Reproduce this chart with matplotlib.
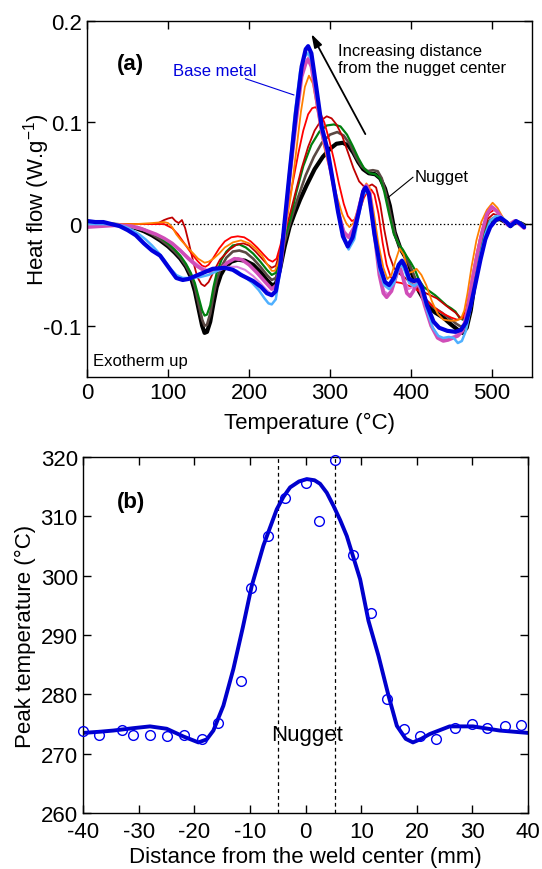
import matplotlib
matplotlib.use("Agg")
import matplotlib.pyplot as plt

plt.rcParams['font.family'] = ['Liberation Sans', 'DejaVu Sans']
plt.rcParams['axes.unicode_minus'] = False
plt.rcParams['axes.linewidth'] = 1.0

# ---------------- Panel (a): DSC curves (Temperature °C, Heat flow W/g) ----------------
black = [(0,0.001),(20,0.0),(40,-0.001),(50,-0.002),(60,-0.004),(70,-0.007),(80,-0.011),(90,-0.016),(100,-0.022),(108,-0.028),(115,-0.034),(122,-0.042),(128,-0.052),(133,-0.066),(138,-0.085),(142,-0.100),(145,-0.107),(148,-0.106),(152,-0.096),(156,-0.078),(160,-0.062),(165,-0.050),(170,-0.043),(178,-0.037),(186,-0.035),(195,-0.036),(205,-0.040),(215,-0.048),(222,-0.055),(228,-0.060),(233,-0.059),(238,-0.045),(244,-0.022),(250,-0.003),(256,0.010),(263,0.024),(271,0.038),(281,0.054),(291,0.066),(300,0.074),(308,0.079),(316,0.080),(323,0.077),(329,0.070),(335,0.061),(341,0.054),(348,0.050),(356,0.049),(362,0.045),(368,0.035),(374,0.018),(380,-0.008),(387,-0.024),(395,-0.035),(402,-0.050),(410,-0.066),(420,-0.080),(430,-0.087),(440,-0.092),(450,-0.099),(458,-0.104),(464,-0.107),(469,-0.102),(474,-0.085),(479,-0.058),(485,-0.030),(491,-0.010),(497,0.0),(503,0.004),(510,0.005),(517,0.002),(523,-0.002),(529,0.002),(535,0.001),(540,-0.001)]

brown = [(0,0.0),(20,0.0),(40,-0.001),(50,-0.002),(60,-0.004),(70,-0.006),(80,-0.010),(90,-0.015),(100,-0.021),(108,-0.027),(115,-0.033),(122,-0.041),(128,-0.050),(133,-0.062),(138,-0.080),(142,-0.094),(145,-0.100),(148,-0.099),(152,-0.088),(156,-0.070),(160,-0.055),(165,-0.043),(172,-0.033),(180,-0.027),(188,-0.026),(196,-0.028),(205,-0.034),(214,-0.042),(222,-0.050),(228,-0.055),(233,-0.053),(238,-0.040),(244,-0.018),(252,0.005),(260,0.025),(270,0.048),(280,0.066),(290,0.080),(300,0.088),(309,0.0905),(317,0.087),(325,0.078),(332,0.066),(339,0.057),(346,0.052),(353,0.053),(359,0.052),(364,0.045),(369,0.030),(375,0.008),(381,-0.012),(387,-0.024),(394,-0.033),(401,-0.045),(409,-0.060),(418,-0.074),(428,-0.082),(438,-0.087),(448,-0.093),(456,-0.098),(462,-0.101),(467,-0.098),(472,-0.082),(477,-0.058),(483,-0.030),(489,-0.010),(495,0.002),(502,0.006),(509,0.006),(516,0.002),(523,-0.002),(529,0.002),(535,0.001),(540,-0.001)]

green = [(0,0.0),(20,0.0),(40,-0.001),(50,-0.002),(60,-0.003),(70,-0.005),(80,-0.009),(90,-0.013),(100,-0.019),(108,-0.025),(115,-0.031),(122,-0.039),(128,-0.048),(133,-0.058),(138,-0.073),(142,-0.085),(145,-0.090),(148,-0.089),(152,-0.080),(156,-0.062),(160,-0.048),(166,-0.035),(172,-0.027),(180,-0.021),(188,-0.020),(196,-0.023),(205,-0.029),(214,-0.037),(222,-0.045),(228,-0.050),(233,-0.048),(238,-0.034),(244,-0.013),(251,0.005),(258,0.030),(267,0.057),(277,0.078),(287,0.091),(296,0.097),(305,0.098),(313,0.096),(321,0.088),(328,0.077),(335,0.065),(342,0.055),(349,0.050),(356,0.049),(362,0.045),(367,0.032),(373,0.010),(379,-0.010),(385,-0.020),(390,-0.025),(395,-0.032),(400,-0.038),(405,-0.045),(410,-0.055),(416,-0.062),(423,-0.066),(430,-0.070),(437,-0.075),(444,-0.080),(450,-0.083),(455,-0.086),(460,-0.092),(464,-0.094),(469,-0.090),(474,-0.075),(480,-0.050),(486,-0.025),(492,-0.008),(498,0.003),(505,0.007),(512,0.005),(519,0.0),(525,0.001),(531,0.003),(536,0.001),(540,-0.001)]

darkred = [(0,0.0),(20,0.0),(40,0.0),(60,0.0),(80,0.0),(88,0.001),(95,0.004),(100,0.0055),(105,0.0065),(109,0.003),(113,0.001),(117,0.004),(121,-0.004),(126,-0.020),(131,-0.037),(136,-0.052),(141,-0.059),(145,-0.061),(150,-0.057),(156,-0.047),(164,-0.035),(176,-0.025),(185,-0.020),(193,-0.019),(200,-0.021),(208,-0.027),(216,-0.034),(223,-0.040),(228,-0.043),(233,-0.041),(238,-0.028),(244,-0.008),(250,0.008),(257,0.030),(265,0.055),(273,0.076),(281,0.092),(289,0.102),(296,0.106),(302,0.104),(308,0.098),(315,0.087),(322,0.071),(329,0.055),(336,0.042),(342,0.037),(347,0.037),(352,0.039),(357,0.036),(362,0.020),(367,-0.005),(373,-0.030),(379,-0.043),(386,-0.049),(393,-0.053),(400,-0.058),(408,-0.063),(416,-0.067),(424,-0.070),(432,-0.073),(440,-0.078),(448,-0.083),(455,-0.087),(461,-0.092),(466,-0.092),(471,-0.080),(477,-0.055),(483,-0.028),(489,-0.008),(495,0.005),(502,0.010),(509,0.008),(516,0.002),(523,-0.002),(529,0.002),(535,0.001),(540,-0.001)]

red = [(0,0.0),(20,0.0),(40,0.0),(60,0.0),(80,0.0),(95,0.0),(105,-0.004),(112,-0.010),(120,-0.019),(128,-0.028),(136,-0.036),(142,-0.041),(146,-0.042),(150,-0.040),(156,-0.033),(163,-0.024),(170,-0.017),(178,-0.013),(186,-0.012),(194,-0.013),(202,-0.017),(210,-0.023),(218,-0.030),(224,-0.035),(229,-0.037),(234,-0.034),(239,-0.020),(244,0.0),(249,0.020),(255,0.045),(261,0.070),(267,0.092),(273,0.108),(278,0.114),(282,0.115),(287,0.111),(293,0.100),(299,0.083),(305,0.063),(311,0.040),(317,0.020),(322,0.008),(327,0.003),(332,0.005),(337,0.014),(342,0.026),(347,0.033),(351,0.034),(355,0.029),(360,0.010),(365,-0.018),(370,-0.040),(375,-0.052),(381,-0.057),(388,-0.058),(395,-0.060),(402,-0.062),(410,-0.066),(418,-0.074),(426,-0.080),(434,-0.085),(442,-0.089),(450,-0.092),(457,-0.094),(463,-0.093),(468,-0.085),(473,-0.065),(479,-0.038),(485,-0.015),(491,0.002),(497,0.011),(503,0.014),(510,0.010),(517,0.003),(524,-0.002),(530,0.002),(536,0.001),(540,-0.002)]

orange = [(0,0.0),(40,0.0),(60,0.0),(80,0.001),(95,0.002),(100,0.001),(105,-0.003),(110,-0.010),(116,-0.016),(123,-0.022),(130,-0.028),(137,-0.034),(145,-0.038),(150,-0.037),(156,-0.034),(163,-0.029),(170,-0.023),(180,-0.018),(190,-0.016),(200,-0.019),(208,-0.024),(216,-0.031),(222,-0.039),(228,-0.046),(232,-0.046),(236,-0.038),(241,-0.018),(246,0.0),(252,0.030),(258,0.070),(264,0.110),(269,0.135),(274,0.146),(279,0.138),(285,0.110),(291,0.082),(297,0.062),(303,0.044),(309,0.026),(315,0.010),(320,0.001),(324,-0.003),(329,0.001),(335,0.016),(340,0.032),(345,0.040),(349,0.036),(354,0.012),(360,-0.020),(366,-0.043),(371,-0.054),(376,-0.050),(381,-0.036),(386,-0.024),(391,-0.030),(397,-0.048),(402,-0.047),(407,-0.044),(413,-0.050),(419,-0.060),(426,-0.076),(433,-0.088),(440,-0.094),(448,-0.095),(456,-0.095),(462,-0.093),(466,-0.085),(470,-0.068),(475,-0.042),(481,-0.016),(487,0.002),(494,0.014),(501,0.021),(507,0.016),(514,0.006),(521,-0.001),(528,0.003),(534,0.001),(540,-0.002)]

violet = [(0,-0.002),(20,-0.001),(40,-0.001),(50,-0.002),(60,-0.004),(70,-0.006),(80,-0.009),(90,-0.012),(100,-0.016),(110,-0.022),(120,-0.029),(130,-0.036),(140,-0.042),(148,-0.045),(156,-0.046),(165,-0.045),(175,-0.042),(185,-0.042),(195,-0.045),(205,-0.051),(214,-0.058),(222,-0.065),(228,-0.069),(233,-0.066),(238,-0.045),(244,-0.008),(250,0.040),(257,0.095),(264,0.140),(269,0.158),(273,0.164),(277,0.158),(283,0.128),(290,0.092),(297,0.069),(304,0.041),(311,0.012),(317,-0.006),(323,-0.012),(330,-0.002),(337,0.020),(342,0.034),(346,0.037),(350,0.030),(355,-0.008),(361,-0.047),(367,-0.066),(372,-0.069),(378,-0.062),(384,-0.048),(388,-0.044),(392,-0.055),(397,-0.064),(402,-0.062),(407,-0.057),(412,-0.060),(418,-0.077),(425,-0.098),(432,-0.110),(440,-0.113),(447,-0.112),(454,-0.110),(460,-0.106),(465,-0.100),(470,-0.082),(476,-0.052),(482,-0.028),(488,-0.006),(494,0.010),(500,0.016),(506,0.012),(513,0.004),(520,-0.001),(528,0.003),(534,0.0),(540,-0.003)]

pink = [(0,-0.003),(20,-0.002),(40,-0.001),(55,-0.002),(65,-0.004),(75,-0.007),(85,-0.010),(95,-0.014),(105,-0.019),(115,-0.026),(125,-0.034),(135,-0.041),(145,-0.046),(155,-0.047),(165,-0.044),(173,-0.038),(182,-0.034),(191,-0.035),(200,-0.040),(210,-0.048),(220,-0.057),(228,-0.064),(234,-0.060),(240,-0.035),(244,-0.005),(250,0.045),(258,0.100),(265,0.145),(270,0.158),(273,0.162),(277,0.155),(283,0.125),(290,0.090),(297,0.068),(304,0.040),(311,0.010),(317,-0.008),(323,-0.013),(330,-0.003),(337,0.020),(342,0.035),(345,0.038),(349,0.030),(355,-0.010),(361,-0.050),(366,-0.068),(370,-0.072),(376,-0.066),(382,-0.050),(386,-0.042),(390,-0.052),(395,-0.068),(399,-0.071),(403,-0.066),(407,-0.059),(411,-0.062),(417,-0.080),(425,-0.100),(433,-0.112),(440,-0.115),(446,-0.114),(452,-0.112),(458,-0.110),(464,-0.105),(470,-0.085),(476,-0.055),(482,-0.030),(488,-0.008),(494,0.010),(500,0.017),(506,0.013),(513,0.005),(520,-0.001),(528,0.003),(534,0.0),(540,-0.004)]

lightblue = [(0,0.0),(20,0.0),(40,-0.001),(48,-0.003),(56,-0.006),(64,-0.010),(72,-0.015),(80,-0.021),(88,-0.028),(95,-0.035),(102,-0.043),(110,-0.050),(118,-0.053),(128,-0.053),(140,-0.052),(150,-0.050),(158,-0.047),(166,-0.044),(175,-0.043),(185,-0.046),(195,-0.052),(204,-0.058),(212,-0.065),(219,-0.073),(224,-0.078),(228,-0.079),(233,-0.074),(238,-0.048),(243,-0.005),(249,0.045),(256,0.105),(263,0.150),(269,0.165),(273,0.168),(277,0.162),(283,0.130),(290,0.092),(297,0.070),(304,0.042),(311,0.010),(317,-0.014),(323,-0.025),(330,-0.015),(336,0.010),(341,0.028),(345,0.033),(349,0.027),(355,-0.012),(361,-0.045),(367,-0.060),(373,-0.064),(379,-0.058),(385,-0.043),(389,-0.040),(393,-0.047),(398,-0.058),(404,-0.061),(409,-0.058),(414,-0.066),(420,-0.085),(427,-0.102),(434,-0.110),(440,-0.112),(447,-0.111),(453,-0.112),(458,-0.117),(463,-0.115),(468,-0.105),(474,-0.082),(480,-0.055),(486,-0.030),(492,-0.010),(498,0.003),(505,0.008),(512,0.007),(519,0.002),(525,-0.001),(531,0.003),(536,0.001),(540,-0.002)]

blue = [(0,0.003),(10,0.002),(20,0.002),(30,0.0),(40,-0.002),(50,-0.006),(60,-0.011),(70,-0.019),(80,-0.026),(90,-0.031),(100,-0.042),(110,-0.053),(118,-0.055),(125,-0.054),(140,-0.049),(155,-0.044),(170,-0.043),(180,-0.045),(190,-0.050),(205,-0.056),(215,-0.062),(222,-0.068),(228,-0.070),(233,-0.066),(238,-0.045),(243,-0.005),(250,0.050),(258,0.110),(265,0.155),(270,0.172),(273,0.175),(277,0.168),(283,0.135),(290,0.095),(297,0.073),(303,0.045),(310,0.012),(316,-0.012),(322,-0.022),(328,-0.013),(335,0.010),(341,0.032),(344,0.036),(348,0.030),(355,-0.010),(362,-0.042),(368,-0.057),(373,-0.060),(379,-0.053),(385,-0.040),(389,-0.036),(393,-0.042),(398,-0.054),(403,-0.056),(409,-0.055),(414,-0.063),(420,-0.080),(428,-0.096),(435,-0.102),(445,-0.105),(455,-0.106),(462,-0.104),(468,-0.097),(474,-0.080),(480,-0.058),(486,-0.035),(492,-0.015),(498,-0.003),(505,0.004),(511,0.006),(518,0.002),(523,-0.002),(530,0.003),(536,0.0),(540,-0.003)]

curve_names = ['black', 'brown', 'green', 'darkred', 'red', 'orange', 'violet', 'pink', 'lightblue', 'blue']
curve_data = [black, brown, green, darkred, red, orange, violet, pink, lightblue, blue]
curve_colors = ['#000000', '#5a4843', '#00800f', '#c00000', '#ff0000', '#ff8000', '#dd80dd', '#d04db8', '#4fb0ff', '#0000dd']
curve_widths = [3.0, 1.9, 1.6, 1.3, 1.3, 1.3, 1.5, 2.6, 1.8, 3.0]

# ---------------- Panel (b): peak temperature vs distance ----------------
dist_mm = [-40.0, -37.1, -33.1, -31.0, -28.0, -25.0, -21.8, -18.7, -15.7, -11.7, -9.8, -6.7, -3.7, 0.0, 2.4, 5.3, 8.45, 11.7, 14.7, 17.7, 20.5, 23.5, 26.8, 29.9, 32.6, 35.8, 38.7]
peak_temp = [273.9, 273.1, 274.0, 273.1, 273.2, 273.0, 273.2, 272.4, 275.2, 282.2, 297.9, 306.7, 313.1, 315.6, 309.3, 319.5, 303.5, 293.7, 279.3, 274.1, 272.9, 272.4, 274.3, 275.0, 274.4, 274.7, 274.9]
fit_dist = [-40, -37, -34.6, -31, -28, -25, -22, -19.3, -17.8, -16.6, -14.8, -13, -11.3, -9.7, -7.6, -6.3, -5.2, -4.0, -2.8, -1.2, 0.2, 1.6, 2.6, 3.8, 5.0, 6.2, 7.4, 9.8, 11.3, 13.1, 14.9, 16.4, 18.0, 19.3, 20.8, 22.3, 25.9, 30.1, 34.9, 40]
fit_temp = [273.5, 273.7, 273.9, 274.3, 274.6, 274.2, 272.9, 271.9, 272.4, 273.9, 278.1, 284.3, 291.3, 298.3, 305.1, 308.4, 311.2, 313.3, 314.9, 315.9, 316.3, 316.1, 315.5, 314.0, 311.8, 309.4, 306.7, 299.4, 292.4, 286.5, 279.8, 274.7, 272.5, 271.9, 272.5, 273.3, 274.6, 274.6, 273.9, 273.5]
nugget_bounds = [-5.0, 5.3]

fig = plt.figure(figsize=(5.42, 8.7), dpi=100)
ax1 = fig.add_axes([0.161, 0.566, 0.821, 0.409])
ax2 = fig.add_axes([0.1537, 0.0644, 0.8205, 0.409])

# ---- panel (a)
ax1.axhline(0, color='black', lw=0.9, ls=(0, (1.2, 1.8)), zorder=1)
for name, data, col, lw in zip(curve_names, curve_data, curve_colors, curve_widths):
    xs = [p[0] for p in data]
    ys = [p[1] for p in data]
    ax1.plot(xs, ys, color=col, lw=lw, solid_joinstyle='round', solid_capstyle='round', zorder=2)

ax1.set_xlim(0, 550)
ax1.set_ylim(-0.15, 0.2)
ax1.set_xticks([0, 100, 200, 300, 400, 500])
ax1.set_xticklabels(['0', '100', '200', '300', '400', '500'])
ax1.set_yticks([-0.1, 0, 0.1, 0.2])
ax1.set_yticklabels(['-0.1', '0', '0.1', '0.2'])
ax1.tick_params(direction='in', top=True, right=True, length=6, width=1, labelsize=16, pad=4)
ax1.set_xlabel('Temperature (°C)', fontsize=16, labelpad=6)
ax1.set_ylabel(r'Heat flow (W.g$^{\mathregular{-1}}$)', fontsize=16, labelpad=-6)

ax1.text(0.098, 0.881, '(a)', transform=ax1.transAxes, fontsize=16, fontweight='bold', ha='center', va='center')
ax1.text(157.7, 0.151, 'Base metal', color='#0000dd', fontsize=12, ha='center', va='center')
ax1.plot([195.6, 255.3], [0.143, 0.127], color='#0000dd', lw=0.8)
ax1.annotate('', xy=(277, 0.187), xytext=(343.7, 0.0885),
             arrowprops=dict(arrowstyle='-|>,head_length=0.8,head_width=0.25', color='black', lw=1.3, shrinkA=0, shrinkB=0))
ax1.text(309.3, 0.1625, 'Increasing distance\nfrom the nugget center', fontsize=12, ha='left', va='center', linespacing=1.15)
ax1.text(438.4, 0.0472, 'Nugget', fontsize=12, ha='center', va='center')
ax1.plot([402.5, 371.6], [0.046, 0.026], color='black', lw=0.8)
ax1.text(7, -0.1337, 'Exotherm up', fontsize=12, ha='left', va='center')

# ---- panel (b)
for xb in nugget_bounds:
    ax2.axvline(xb, color='black', lw=0.9, ls=(0, (3, 2.5)), zorder=1)
ax2.plot(fit_dist, fit_temp, color='#0000cc', lw=2.8, solid_joinstyle='round', zorder=2)
ax2.plot(dist_mm, peak_temp, ls='none', marker='o', ms=7, mfc='none', mec='#0000ee', mew=1.0, clip_on=False, zorder=3)
ax2.set_xlim(-40, 40)
ax2.set_ylim(260, 320)
xt = [-40, -30, -20, -10, 0, 10, 20, 30, 40]
ax2.set_xticks(xt)
ax2.set_xticklabels([str(v) for v in xt])
yt = [260, 270, 280, 290, 300, 310, 320]
ax2.set_yticks(yt)
ax2.set_yticklabels([str(v) for v in yt])
ax2.tick_params(direction='in', top=True, right=True, length=6, width=1, labelsize=16, pad=4)
ax2.tick_params(axis='x', pad=6)
ax2.set_xlabel('Distance from the weld center (mm)', fontsize=16, labelpad=3)
ax2.set_ylabel('Peak temperature (°C)', fontsize=16, labelpad=3)
ax2.text(0.107, 0.874, '(b)', transform=ax2.transAxes, fontsize=16, fontweight='bold', ha='center', va='center')
ax2.text(0.2, 273.3, 'Nugget', fontsize=16, ha='center', va='center')

fig.savefig('out.png', dpi=100)
